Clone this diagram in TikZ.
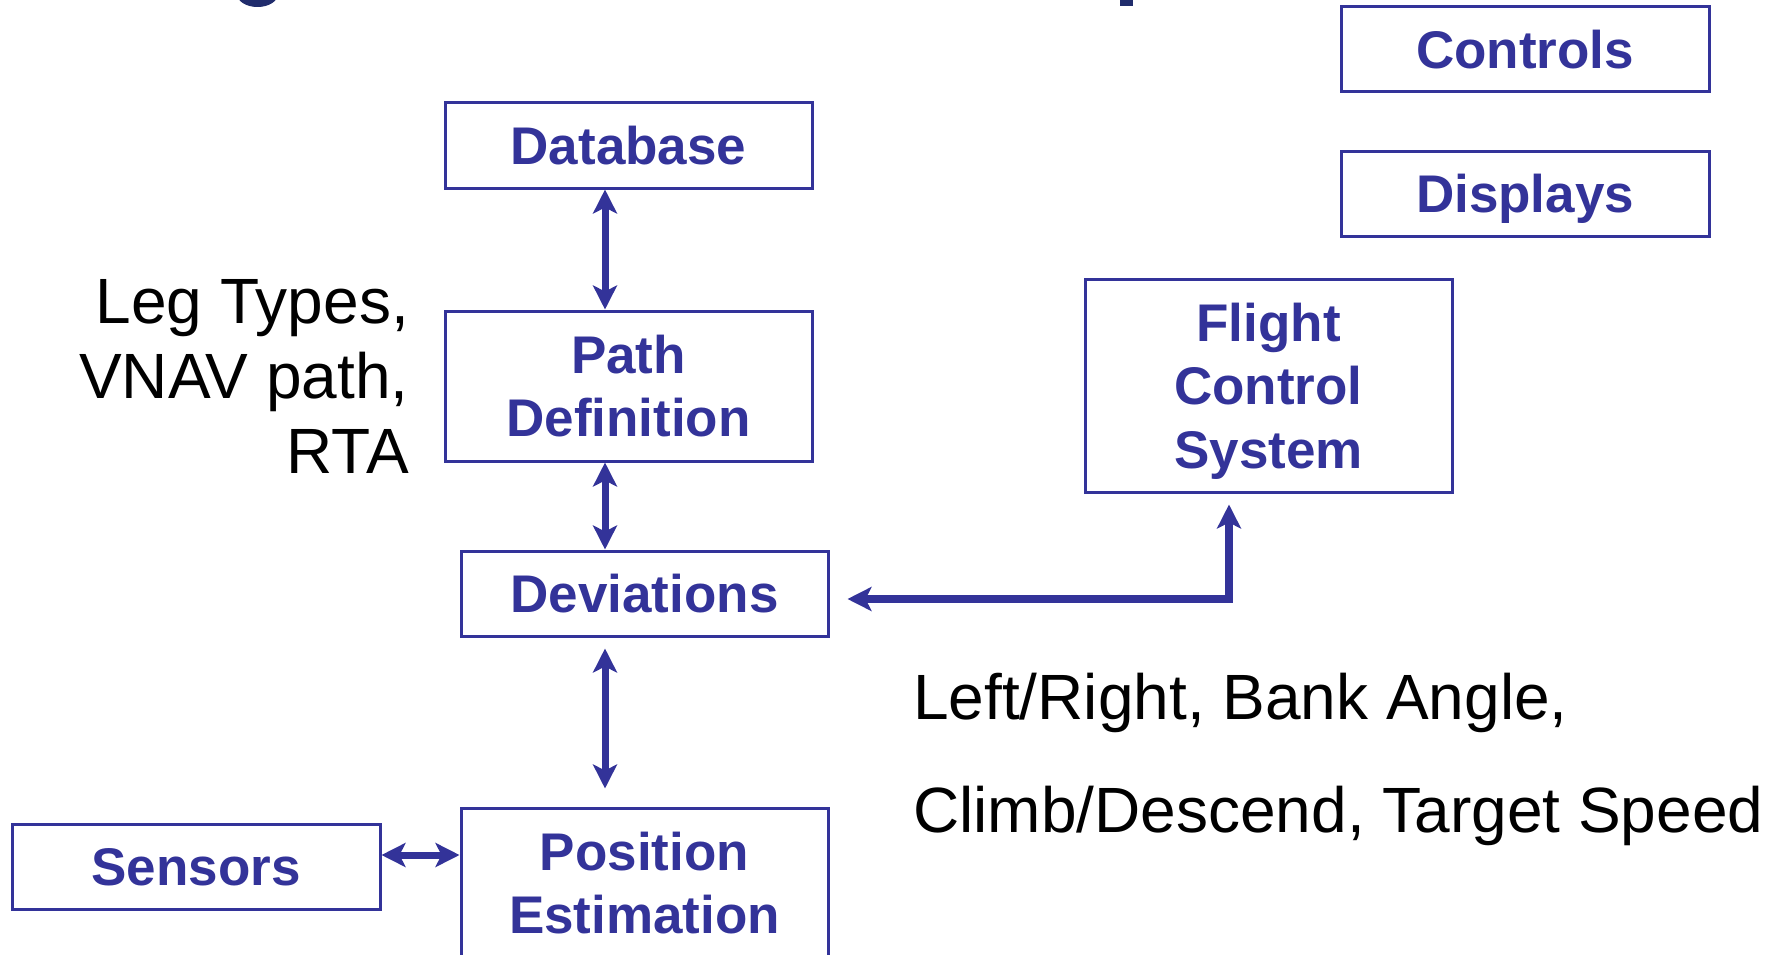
\documentclass[tikz,border=0pt]{standalone}
\usepackage{fontspec}
\setmainfont{Liberation Sans}
\usetikzlibrary{arrows.meta}
\definecolor{boxblue}{RGB}{51,51,153}
\definecolor{titlenavy}{RGB}{32,44,108}

\begin{document}
\begin{tikzpicture}[x=1pt,y=-1pt,
  block/.style={draw=boxblue, line width=3pt, text=boxblue,
    font=\fontsize{53}{63.5}\selectfont\bfseries, align=center,
    inner sep=0pt, text height=38pt, text depth=0pt, minimum width=367pt},
  twolines/.style={text height=101.5pt},
  threelines/.style={text height=165pt},
  link/.style={draw=boxblue, line width=7pt, {Stealth[length=24pt,width=24pt,inset=6pt]}-{Stealth[length=24pt,width=24pt,inset=6pt]}},
  note/.style={text=black, font=\fontsize{64}{75}\selectfont, inner sep=0pt}]

% page frame
\useasboundingbox (0,0) rectangle (1779,955);
\fill[white] (0,0) rectangle (1779,955);

% descenders of the heading running off the top edge
\fill[titlenavy] (257.5,-6) ellipse [x radius=20.5, y radius=13];
\fill[titlenavy] (1120,-5) rectangle (1133,6);

% blocks
\node[block, minimum height=85pt, minimum width=368pt] (controls) at (1525,49.5) {Controls};
\node[block, minimum height=85pt, minimum width=368pt] (displays) at (1525,193.5) {Displays};
\node[block, minimum height=85pt] (database) at (628.5,145.5) {Database};
\node[block, twolines, minimum height=150pt] (pathdef) at (628.5,386) {Path\\Definition};
\node[block, minimum height=85pt] (deviations) at (644.5,593.5) {Deviations};
\node[block, threelines, minimum height=213pt] (fcs) at (1268.5,385.5) {Flight\\Control\\System};
\node[block, minimum height=85pt, minimum width=368pt] (sensors) at (196,866.5) {Sensors};
\node[block, twolines, minimum height=150pt] (position) at (644.5,883) {Position\\Estimation};

% side notes (anchored on the baseline of their last line)
\node[note, anchor=base east, align=right] (legs) at (409,473) {Leg Types,\\VNAV path,\\RTA};
\node[note, anchor=base west, align=left, font=\fontsize{64}{113}\selectfont] (commands) at (913,832)
  {Left/Right, Bank Angle,\\Climb/Descend, Target Speed};

% connectors
\coordinate (ax) at (605,0);
\coordinate (sy) at (0,855);
\coordinate (fx) at (1229,0);
\coordinate (fy) at (0,599);

\draw[link] (database.south -| ax) -- (pathdef.north -| ax);
\draw[link] (pathdef.south -| ax) -- (deviations.north -| ax);
\draw[link, shorten <=11pt, shorten >=18pt] (deviations.south -| ax) -- (position.north -| ax);
\draw[link] (sensors.east |- sy) -- (position.west |- sy);
\draw[link, line width=8.5pt, shorten <=11pt, shorten >=18pt] (fcs.south -| fx) |- (deviations.east |- fy);
\end{tikzpicture}
\end{document}
